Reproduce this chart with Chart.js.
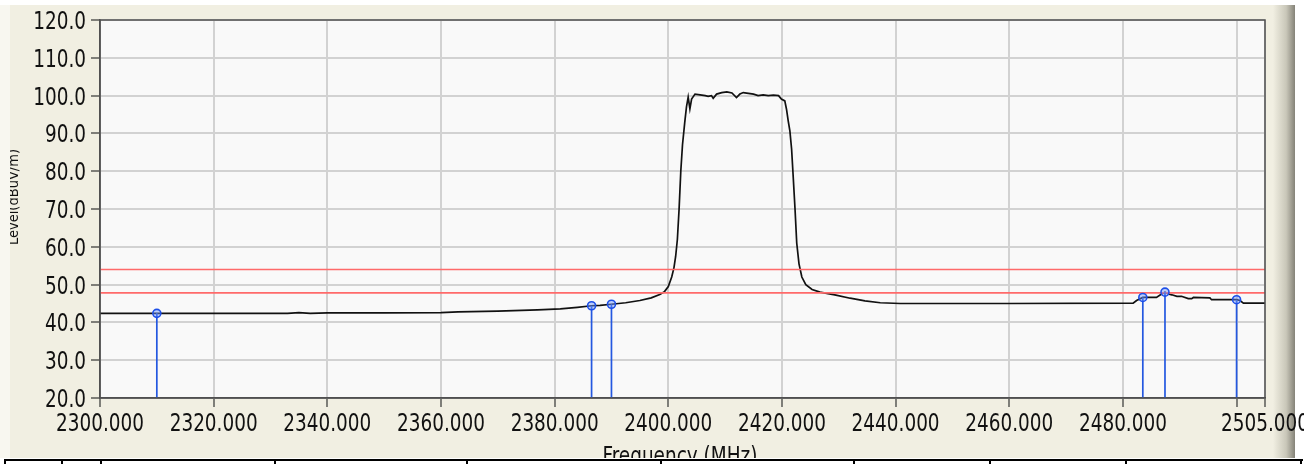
<!DOCTYPE html>
<html>
<head>
<meta charset="utf-8">
<script src="https://cdn.jsdelivr.net/npm/chart.js@4.4.0/dist/chart.umd.min.js"></script>
<style>
html,body{margin:0;padding:0;background:#fff;overflow:hidden}
#wrap{width:1304px;height:464px;position:relative}
</style>
</head>
<body>
<div id="wrap"><canvas id="c" width="1304" height="464"></canvas></div>
<script>
// ---- data ----
const freqMHz = [2300, 2320, 2333, 2335, 2337, 2340, 2350, 2360, 2363, 2370, 2377, 2381, 2384, 2386.5, 2388, 2390,
  2392.5, 2395, 2397, 2398.5, 2399.3, 2400.0, 2400.6, 2401.0, 2401.3, 2401.6, 2401.9, 2402.2, 2402.5, 2402.9,
  2403.2, 2403.5, 2403.8, 2404.1, 2404.7, 2405.6, 2406.5, 2407.0, 2407.6, 2407.9, 2408.5, 2409.4, 2410.3,
  2411.2, 2412.0, 2412.6, 2413.2, 2414.1, 2415.0, 2415.8, 2416.7, 2417.6, 2418.5, 2419.4, 2419.9, 2420.5,
  2420.8, 2421.1, 2421.4, 2421.7, 2422.0, 2422.3, 2422.6, 2423.0, 2423.5, 2424.2, 2425.3, 2426.7, 2429.3,
  2432.0, 2434.6, 2437.3, 2440.8, 2460, 2481.8, 2482.4, 2483.5, 2485.9, 2486.8, 2487.4, 2488.0, 2488.6,
  2489.5, 2490.3, 2491.5, 2492.1, 2492.4, 2495.3, 2495.6, 2500.0, 2500.6, 2501.2, 2505];
const levelDb = [42.4, 42.4, 42.4, 42.6, 42.4, 42.5, 42.5, 42.6, 42.8, 43.0, 43.3, 43.6, 44.0, 44.4, 44.5, 44.8,
  45.2, 45.8, 46.5, 47.4, 48.1, 49.5, 52.0, 54.5, 57.5, 62.0, 70.0, 80.0, 87.0, 93.0,
  97.0, 99.6, 96.5, 99.1, 100.4, 100.2, 100.0, 99.8, 100.0, 99.3, 100.4, 100.8, 101.0,
  100.7, 99.5, 100.4, 100.8, 100.6, 100.4, 100.0, 100.2, 100.0, 100.1, 100.0, 99.1, 98.6,
  96.4, 93.3, 90.6, 85.8, 78.0, 70.0, 61.0, 55.5, 52.0, 50.0, 48.7, 48.0, 47.3,
  46.4, 45.7, 45.2, 45.0, 45.0, 45.1, 45.8, 46.6, 46.6, 47.5, 48.0, 47.5, 47.3,
  46.9, 46.9, 46.3, 46.3, 46.6, 46.5, 46.0, 46.0, 45.8, 45.1, 45.1];
const markerFreq = [2310, 2386.5, 2390, 2483.5, 2487.4, 2500];
const markerLevel = [42.4, 44.4, 44.8, 46.6, 48.0, 46.0];
const limitLevels = [54.0, 47.8];
const xTickValues = [2300, 2320, 2340, 2360, 2380, 2400, 2420, 2440, 2460, 2480, 2500, 2505];
const xTickLabels = ['2300.000', '2320.000', '2340.000', '2360.000', '2380.000', '2400.000', '2420.000',
  '2440.000', '2460.000', '2480.000', '', '2505.000'];
const yTickValues = [20, 30, 40, 50, 60, 70, 80, 90, 100, 110, 120];
const yTickLabels = ['20.0', '30.0', '40.0', '50.0', '60.0', '70.0', '80.0', '90.0', '100.0', '110.0', '120.0'];
const xTitle = 'Frequency (MHz)';
const yTitle = 'Level(dBuV/m)';

// ---- build library structures ----
const W = 1304, H = 464;
const LABEL_FONT = '25px "DejaVu Sans Condensed", "DejaVu Sans", sans-serif';
const SX = 0.82;
const BEIGE = '#f1efe2';

const traceData = freqMHz.map((f, i) => ({ x: f, y: levelDb[i] }));
const stemData = [];
markerFreq.forEach((f, i) => {
  stemData.push({ x: f, y: 20 }, { x: f, y: markerLevel[i] }, { x: f, y: null });
});
const markerData = markerFreq.map((f, i) => ({ x: f, y: markerLevel[i] }));
const limitSets = limitLevels.map(l => ({
  data: [{ x: 2300, y: l }, { x: 2505, y: l }],
  showLine: true, borderColor: '#ff6a6a', borderWidth: 1.7, pointRadius: 0, order: 2
}));

function squeezedText(ctx, text, x, y, align) {
  ctx.save();
  ctx.translate(x, y);
  ctx.scale(SX, 1);
  ctx.textAlign = align;
  ctx.textBaseline = 'alphabetic';
  ctx.fillText(text, 0, 0);
  ctx.restore();
}

const framePlugin = {
  id: 'frame',
  beforeDraw(chart) {
    const ctx = chart.ctx, a = chart.chartArea;
    ctx.save();
    ctx.fillStyle = '#ffffff';
    ctx.fillRect(0, 0, W, H);
    ctx.fillStyle = BEIGE;
    ctx.fillRect(0, 5, 1295, 453);
    ctx.fillStyle = '#f8f7f0';
    ctx.fillRect(0, 5, 10, 453);
    const g = ctx.createLinearGradient(1273, 0, 1295, 0);
    g.addColorStop(0, BEIGE);
    g.addColorStop(0.6, '#c9c7b9');
    g.addColorStop(1, '#858378');
    ctx.fillStyle = g;
    ctx.fillRect(1273, 5, 22, 453);
    ctx.fillStyle = '#f9f9f9';
    ctx.fillRect(a.left, a.top, a.right - a.left, a.bottom - a.top);
    ctx.restore();
  },
  afterDraw(chart) {
    const ctx = chart.ctx, a = chart.chartArea;
    const xs = chart.scales.x, ys = chart.scales.y;
    ctx.save();
    // plot border
    ctx.strokeStyle = '#505050';
    ctx.lineWidth = 1.5;
    ctx.strokeRect(a.left, a.top, a.right - a.left, a.bottom - a.top);
    // tick labels, placed with the library's scales
    ctx.fillStyle = '#111';
    ctx.font = LABEL_FONT;
    yTickValues.forEach((v, i) => {
      squeezedText(ctx, yTickLabels[i], 86, ys.getPixelForValue(v) + 9, 'right');
    });
    xTickValues.forEach((v, i) => {
      if (xTickLabels[i]) squeezedText(ctx, xTickLabels[i], xs.getPixelForValue(v), 430.5, 'center');
    });
    // y title (rotated, clipped by frame edge)
    ctx.font = '14.5px "DejaVu Sans Condensed", "DejaVu Sans", sans-serif';
    ctx.save();
    ctx.translate(18, 197);
    ctx.rotate(-Math.PI / 2);
    ctx.textAlign = 'center';
    ctx.textBaseline = 'alphabetic';
    ctx.fillText(yTitle, 0, 0);
    ctx.restore();
    ctx.fillStyle = '#f8f7f0';
    ctx.fillRect(0, 5, 10, 453);
    // x title
    ctx.fillStyle = '#111';
    ctx.font = LABEL_FONT;
    squeezedText(ctx, xTitle, 680, 463.5, 'center');
    // table below
    ctx.fillStyle = '#ffffff';
    ctx.fillRect(0, 458, W, 6);
    ctx.fillStyle = '#000';
    ctx.fillRect(4, 459, 1299, 2);
    [5, 62, 101, 275, 467, 661, 854, 990, 1126, 1301].forEach(x => ctx.fillRect(x - 1, 461, 2, 3));
    ctx.restore();
  }
};

new Chart(document.getElementById('c'), {
  type: 'scatter',
  data: {
    datasets: [
      { data: markerData, showLine: false, pointRadius: 4, pointBorderWidth: 1.6,
        pointBorderColor: '#1d4fe8', pointBackgroundColor: 'rgba(110,150,255,0.45)', order: 0 },
      { data: stemData, showLine: true, spanGaps: false, borderColor: '#2458e0', borderWidth: 1.7,
        pointRadius: 0, order: 1 },
      ...limitSets,
      { data: traceData, showLine: true, borderColor: '#111111', borderWidth: 1.7, pointRadius: 0,
        tension: 0, order: 3 }
    ]
  },
  options: {
    responsive: false,
    animation: false,
    devicePixelRatio: 1,
    layout: { padding: { left: 0, top: 20, right: 39, bottom: 0 } },
    plugins: { legend: { display: false }, tooltip: { enabled: false } },
    scales: {
      x: {
        type: 'linear', min: 2300, max: 2505,
        afterBuildTicks: s => { s.ticks = xTickValues.map(v => ({ value: v })); },
        afterFit: s => { s.height = H - 398; s.paddingLeft = 0; s.paddingRight = 0; },
        ticks: { display: false, autoSkip: false, maxRotation: 0, minRotation: 0 },
        grid: { color: '#d2d2d2', lineWidth: 2, tickLength: 9, tickColor: '#333', tickWidth: 1.2 },
        border: { display: true, color: '#505050', width: 1.5 }
      },
      y: {
        min: 20, max: 120,
        afterBuildTicks: s => { s.ticks = yTickValues.map(v => ({ value: v })); },
        afterFit: s => { s.width = 100; s.paddingTop = 0; s.paddingBottom = 0; },
        ticks: { display: false },
        grid: { color: '#d2d2d2', lineWidth: 2, tickLength: 9, tickColor: '#333', tickWidth: 1.2 },
        border: { display: true, color: '#505050', width: 1.5 }
      }
    }
  },
  plugins: [framePlugin]
});
</script>
</body>
</html>
